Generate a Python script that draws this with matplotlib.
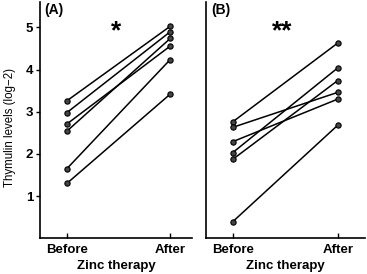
import numpy as np
import matplotlib
matplotlib.use('Agg')
import matplotlib.pyplot as plt

# (log2 thymulin levels)
before_A = [3.26, 2.98, 2.71, 2.54, 1.65, 1.30]
after_A = [5.03, 4.90, 4.56, 4.74, 4.24, 3.42]
before_B = [2.76, 2.63, 2.29, 2.03, 1.87, 0.39]
after_B = [4.63, 3.46, 3.30, 4.04, 3.74, 2.68]
xcats = ['Before', 'After']
yticks = [1, 2, 3, 4, 5]
panels = ['(A)', '(B)']
stars = ['*', '**']

plt.rcParams['font.family'] = ['Liberation Sans', 'DejaVu Sans']
plt.rcParams['axes.linewidth'] = 1.2

W, H = 367, 274
fig = plt.figure(figsize=(W/100, H/100), dpi=100)
axA = fig.add_axes([40/W, (H-238.2)/H, 152/W, 236/H])
axB = fig.add_axes([206/W, (H-238.2)/H, 159/W, 236/H])

for ax, bef, aft, lab, st, xl, sx in [(axA, before_A, after_A, panels[0], stars[0], (-0.26, 1.21), 0.48),
                                      (axB, before_B, after_B, panels[1], stars[1], (-0.254, 1.26), 0.47)]:
    for b, a in zip(bef, aft):
        ax.plot([0, 1], [b, a], '-', color='k', lw=1.1, marker='o', ms=3.8,
                mfc='#444444', mec='k', mew=0.8)
    ax.set_xlim(*xl)
    ax.set_ylim(0, 5.6)
    for s in ['top', 'right']:
        ax.spines[s].set_visible(False)
    ax.set_xticks([0, 1])
    ax.set_xticklabels(xcats, fontsize=9.5, fontweight='bold')
    ax.tick_params(axis='x', direction='in', length=3.5, width=1, pad=4)
    ax.set_xlabel('Zinc therapy', fontsize=9.5, fontweight='bold', labelpad=3)
    ax.text(0.03, 0.995, lab, transform=ax.transAxes, fontsize=10, fontweight='bold',
            va='top', ha='left')
    ax.text(sx, 4.92, st, fontsize=19, fontweight='bold', ha='center', va='center')

axA.set_yticks(yticks)
axA.set_yticklabels([str(v) for v in yticks], fontsize=9.5, fontweight='bold')
axA.tick_params(axis='y', direction='out', length=3, width=1, pad=2)
axA.set_ylabel('Thymulin levels (log\u22122)', fontsize=8.3, labelpad=4)
axA.yaxis.set_label_coords(-0.16, 0.47)
axB.set_yticks([])

fig.savefig('out.png', dpi=100)
